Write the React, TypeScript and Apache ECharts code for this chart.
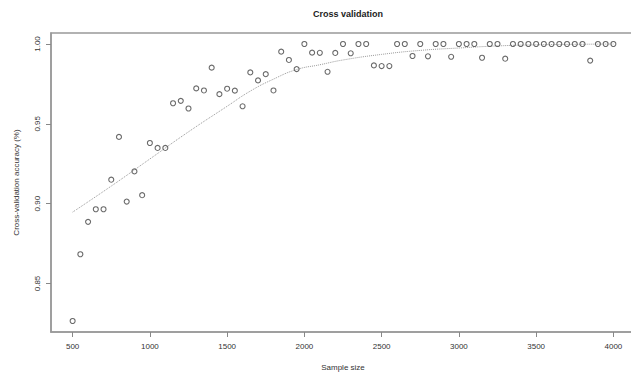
import React, { useEffect, useRef } from "react";
import * as echarts from "echarts";

const sampleSizes = [
  500, 550, 600, 650, 700, 750, 800, 850, 900, 950,
  1000, 1050, 1100, 1150, 1200, 1250, 1300, 1350, 1400, 1450,
  1500, 1550, 1600, 1650, 1700, 1750, 1800, 1850, 1900, 1950,
  2000, 2050, 2100, 2150, 2200, 2250, 2300, 2350, 2400, 2450,
  2500, 2550, 2600, 2650, 2700, 2750, 2800, 2850, 2900, 2950,
  3000, 3050, 3100, 3150, 3200, 3250, 3300, 3350, 3400, 3450,
  3500, 3550, 3600, 3650, 3700, 3750, 3800, 3850, 3900, 3950,
  4000,
];

const accuracy = [
  0.8265, 0.8683, 0.8886, 0.8965, 0.8965, 0.915, 0.9418, 0.9013, 0.9202, 0.9053,
  0.938, 0.9349, 0.9349, 0.9629, 0.9644, 0.9596, 0.9722, 0.9709, 0.9852, 0.9686,
  0.972, 0.9708, 0.961, 0.9822, 0.9772, 0.9811, 0.9709, 0.9952, 0.99, 0.9843,
  1.0, 0.9946, 0.9945, 0.9826, 0.9944, 1.0, 0.9942, 1.0, 1.0, 0.9866,
  0.9862, 0.9862, 1.0, 1.0, 0.9925, 1.0, 0.9923, 1.0, 1.0, 0.992,
  1.0, 1.0, 1.0, 0.9914, 1.0, 1.0, 0.9908, 1.0, 1.0, 1.0,
  1.0, 1.0, 1.0, 1.0, 1.0, 1.0, 1.0, 0.9896, 1.0, 1.0,
  1.0,
];

const fitX = [500, 750, 1000, 1250, 1500, 1650, 1800, 1950, 2100, 2250, 2500, 2750, 3000, 3250, 3500, 3750, 4000];
const fitY = [0.8947, 0.911, 0.928, 0.945, 0.961, 0.9705, 0.978, 0.984, 0.987, 0.99, 0.9935, 0.996, 0.9975, 0.9988, 0.9995, 0.9998, 1.0];

const xTicks = [500, 1000, 1500, 2000, 2500, 3000, 3500, 4000];
const yTicks = [0.85, 0.9, 0.95, 1.0];

const titleText = "Cross validation";
const xName = "Sample size";
const yName = "Cross-validation accuracy (%)";

export default function App() {
  const ref = useRef<HTMLDivElement>(null);
  useEffect(() => {
    if (!ref.current) return;
    const chart = echarts.init(ref.current, undefined, { renderer: "svg" });
    const font = "Liberation Sans, Arial, Helvetica, sans-serif";
    chart.setOption({
      animation: false,
      backgroundColor: "#ffffff",
      title: {
        text: titleText,
        left: 343,
        textAlign: "center",
        top: 4,
        textStyle: { fontSize: 9, fontWeight: "bold", color: "#222", fontFamily: font },
      },
      grid: {
        left: 51,
        top: 33,
        width: 584,
        height: 299,
        outerBoundsMode: "none",
        containLabel: false,
        show: true,
        borderColor: "#999",
        borderWidth: 1.5,
        backgroundColor: "transparent",
      },
      xAxis: {
        type: "value",
        min: 360,
        max: 4140,
        name: xName,
        nameLocation: "middle",
        nameGap: 31,
        nameTextStyle: { fontSize: 8, color: "#333", fontFamily: font },
        splitLine: { show: false },
        axisLine: { show: true, onZero: false, lineStyle: { color: "#999", width: 1.5 } },
        axisTick: { show: true, length: 5, customValues: xTicks, lineStyle: { color: "#888" } },
        axisLabel: {
          customValues: xTicks,
          margin: 10,
          fontSize: 8,
          color: "#333",
          fontFamily: font,
          formatter: (v: number) => String(v),
        },
      },
      yAxis: {
        type: "value",
        min: 0.8196,
        max: 1.0069,
        name: yName,
        nameLocation: "middle",
        nameGap: 31,
        nameRotate: 90,
        nameTextStyle: { fontSize: 8, color: "#333", fontFamily: font },
        splitLine: { show: false },
        axisLine: { show: true, onZero: false, lineStyle: { color: "#999", width: 1.5 } },
        axisTick: { show: true, length: 5, customValues: yTicks, lineStyle: { color: "#888" } },
        axisLabel: {
          customValues: yTicks,
          rotate: 90,
          margin: 10,
          fontSize: 8,
          color: "#333",
          fontFamily: font,
          formatter: (v: number) => v.toFixed(2),
        },
      },
      series: [
        {
          type: "line",
          data: fitX.map((x, i) => [x, fitY[i]]),
          smooth: true,
          showSymbol: false,
          silent: true,
          lineStyle: { type: "dotted", color: "#999", width: 1 },
          z: 1,
        },
        {
          type: "scatter",
          data: sampleSizes.map((x, i) => [x, accuracy[i]]),
          symbol: "circle",
          symbolSize: 5,
          silent: true,
          itemStyle: { color: "rgba(0,0,0,0)", borderColor: "#444", borderWidth: 1.1 },
          z: 2,
        },
      ],
    });
    return () => chart.dispose();
  }, []);
  return (
    <div
      ref={ref}
      style={{ position: "fixed", left: 0, top: 0, width: 631, height: 372, overflow: "hidden" }}
    />
  );
}
